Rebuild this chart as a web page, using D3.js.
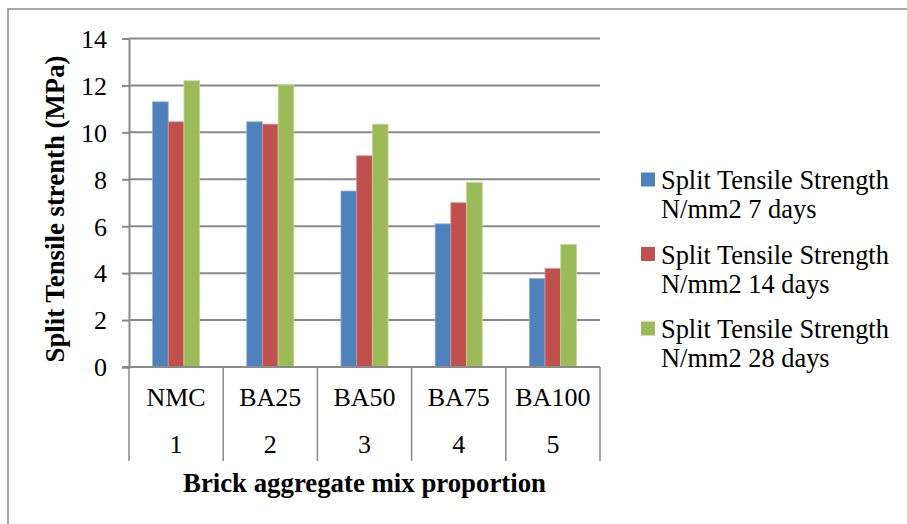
<!DOCTYPE html>
<html>
<head>
<meta charset="utf-8">
<script src="https://cdn.jsdelivr.net/npm/d3@7/dist/d3.min.js"></script>
<style>
  html, body { margin: 0; padding: 0; background: #fff; }
  svg { display: block; }
  svg text { font-family: "Liberation Serif", "Times New Roman", Tinos, serif; fill: #000; }
</style>
</head>
<body>
<svg id="chart" width="907" height="524"></svg>
<script>
// Mix proportions and their sequence numbers (two-level category axis)
const categories = ["NMC", "BA25", "BA50", "BA75", "BA100"];
const categoryNumbers = ["1", "2", "3", "4", "5"];

// Split tensile strength (N/mm2) at each curing age
const seriesNames = [
  ["Split Tensile Strength", "N/mm2 7 days"],
  ["Split Tensile Strength", "N/mm2 14 days"],
  ["Split Tensile Strength", "N/mm2 28 days"]
];
const days7  = [11.3, 10.45, 7.5, 6.1, 3.77];
const days14 = [10.45, 10.35, 9.0, 7.0, 4.2];
const days28 = [12.2, 12.02, 10.35, 7.87, 5.22];
const yTicks = [0, 2, 4, 6, 8, 10, 12, 14];

const seriesValues = [days7, days14, days28];
const colors = ["#4F81BD", "#C0504D", "#9BBB59"];
const edgeColors = ["#8FB0D9", "#DC8F8D", "#C3D89A"];

const svg = d3.select("#chart");
const gridColor = "#8A8A8A";

// Outer chart frame (top and left edges visible)
svg.append("path")
  .attr("d", "M8,524 V9 H907")
  .attr("fill", "none")
  .attr("stroke", "#8A8A8A")
  .attr("stroke-width", 1.5);

const plot = { left: 129, right: 600, top: 38.5, bottom: 367 };

const x = d3.scaleBand()
  .domain(categories)
  .range([plot.left, plot.right])
  .paddingInner(0)
  .paddingOuter(0);

const inner = d3.scaleBand()
  .domain(d3.range(seriesValues.length))
  .range([0, x.bandwidth() * 0.5]);

const y = d3.scaleLinear()
  .domain([0, 14])
  .range([plot.bottom, plot.top]);

// Horizontal gridlines
svg.append("g")
  .selectAll("line")
  .data(yTicks.filter(d => d > 0))
  .join("line")
  .attr("x1", plot.left)
  .attr("x2", plot.right)
  .attr("y1", d => y(d))
  .attr("y2", d => y(d))
  .attr("stroke", gridColor)
  .attr("stroke-width", 2);

// Y axis with outward tick marks
const yAxis = d3.axisLeft(y)
  .tickValues(yTicks)
  .tickSize(7)
  .tickPadding(15)
  .tickFormat(d3.format("d"));

const yg = svg.append("g")
  .attr("transform", `translate(${plot.left},0)`)
  .call(yAxis)
  .attr("font-family", null)
  .attr("font-size", null);
yg.select(".domain").attr("stroke", gridColor).attr("stroke-width", 2);
yg.selectAll(".tick line").attr("stroke", gridColor).attr("stroke-width", 2);
yg.selectAll(".tick text")
  .attr("font-size", 26)
  .attr("fill", "#000")
  .attr("dy", "0.34em");

// Bars
const groups = svg.append("g")
  .selectAll("g")
  .data(categories)
  .join("g")
  .attr("transform", d => `translate(${x(d) + x.bandwidth() * 0.25},0)`);

groups.selectAll("rect")
  .data((d, i) => seriesValues.map((vals, s) => ({ s, v: vals[i] })))
  .join("rect")
  .attr("x", d => inner(d.s))
  .attr("width", inner.bandwidth())
  .attr("y", d => y(d.v))
  .attr("height", d => y(0) - y(d.v))
  .attr("fill", d => colors[d.s])
  .attr("stroke", d => edgeColors[d.s])
  .attr("stroke-width", 0.8);

// Category axis baseline and separators (two-level)
const catAxis = svg.append("g");
catAxis.append("line")
  .attr("x1", plot.left - 7).attr("x2", plot.right)
  .attr("y1", y(0)).attr("y2", y(0))
  .attr("stroke", gridColor).attr("stroke-width", 2);

const sepBottom = 461;
catAxis.selectAll("line.sep")
  .data(categories.map(c => x(c)).concat([plot.right]))
  .join("line")
  .attr("class", "sep")
  .attr("x1", d => d).attr("x2", d => d)
  .attr("y1", y(0)).attr("y2", sepBottom)
  .attr("stroke", gridColor).attr("stroke-width", 1.5);

catAxis.selectAll("text.cat")
  .data(categories)
  .join("text")
  .attr("class", "cat")
  .attr("x", d => x(d) + x.bandwidth() / 2)
  .attr("y", 405.5)
  .attr("text-anchor", "middle")
  .attr("font-size", 26)
  .text(d => d);

catAxis.selectAll("text.num")
  .data(categoryNumbers)
  .join("text")
  .attr("class", "num")
  .attr("x", (d, i) => x(categories[i]) + x.bandwidth() / 2)
  .attr("y", 453)
  .attr("text-anchor", "middle")
  .attr("font-size", 26)
  .text(d => d);

// Axis titles
svg.append("text")
  .attr("x", (plot.left + plot.right) / 2)
  .attr("y", 491.5)
  .attr("text-anchor", "middle")
  .attr("font-size", 26.8)
  .attr("font-weight", "bold")
  .text("Brick aggregate mix proportion");

svg.append("text")
  .attr("transform", "translate(64,209) rotate(-90)")
  .attr("text-anchor", "middle")
  .attr("font-size", 26.8)
  .attr("font-weight", "bold")
  .text("Split Tensile strenth (MPa)");

// Legend
const legend = svg.append("g").attr("transform", "translate(641,172.5)");
const items = legend.selectAll("g")
  .data(seriesNames)
  .join("g")
  .attr("transform", (d, i) => `translate(0,${i * 74.5})`);

items.append("rect")
  .attr("width", 14).attr("height", 14)
  .attr("fill", (d, i) => colors[i]);

items.append("text")
  .attr("x", 20)
  .attr("font-size", 26.4)
  .selectAll("tspan")
  .data(d => d)
  .join("tspan")
  .attr("x", 20)
  .attr("y", (d, j) => 16.8 + j * 29)
  .text(d => d);
</script>
</body>
</html>
